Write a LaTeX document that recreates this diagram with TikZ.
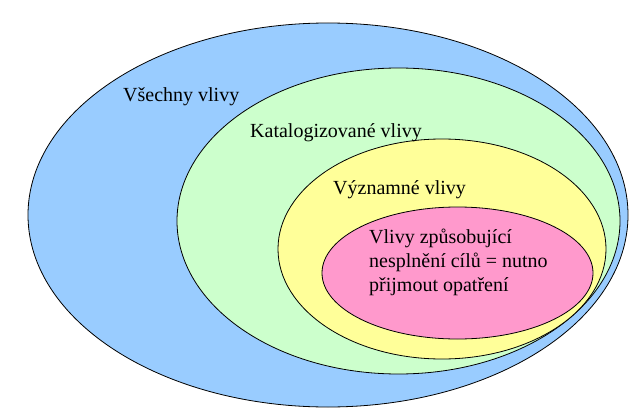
\documentclass[tikz,border=0pt]{standalone}
\usepackage{fontspec}
\setmainfont{Liberation Serif}
\definecolor{vsechny}{HTML}{99CCFF}
\definecolor{katalog}{HTML}{CCFFCC}
\definecolor{vyznam}{HTML}{FFFF99}
\definecolor{opatreni}{HTML}{FF99CC}
\tikzset{mnozina/.style={draw=black, line width=0.8pt}, popis/.style={anchor=base west, inner sep=0pt, font=\fontsize{20}{24}\selectfont}}

\begin{document}
\begin{tikzpicture}[x=1pt, y=-1pt]
\useasboundingbox (0,0) rectangle (639,409);
\draw[mnozina, fill=vsechny] (328,215) ellipse [x radius=300, y radius=192];
\draw[mnozina, fill=katalog] (398.5,221) ellipse [x radius=221.5, y radius=153];
\draw[mnozina, fill=vyznam] (442,249) ellipse [x radius=164, y radius=110];
\draw[mnozina, fill=opatreni] (457.5,273) ellipse [x radius=135.5, y radius=66];
\node[popis] (V) at (123,102) {Všechny vlivy};
\node[popis] (K) at (250,137) {Katalogizované vlivy};
\node[popis] (Y) at (333,194) {Významné vlivy};
\node[popis, align=left] (P) at (369,291) {Vlivy způsobující\\nesplnění cílů = nutno\\přijmout opatření};
\end{tikzpicture}
\end{document}
